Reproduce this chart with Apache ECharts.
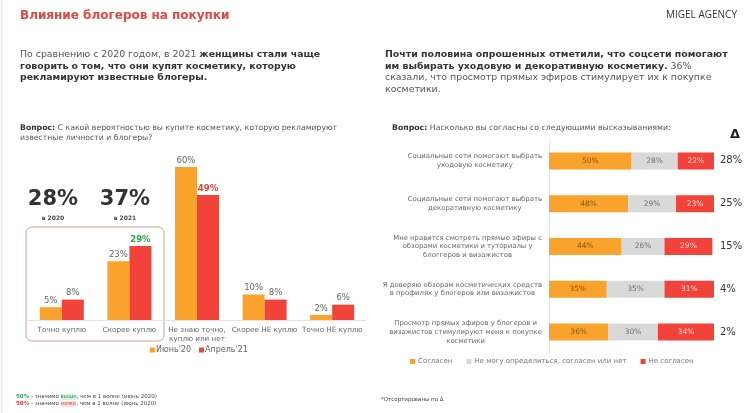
<!DOCTYPE html>
<html><head><meta charset="utf-8">
<script src="https://cdn.jsdelivr.net/npm/echarts@6/dist/echarts.min.js"></script>
<style>html,body{margin:0;padding:0;background:#fff}#c{width:750px;height:413px}</style>
</head><body><div id="c"></div>
<script>
// ---- data ----
const leftCategories = ['Точно куплю', 'Скорее куплю', 'Не знаю точно,\nкуплю или нет', 'Скорее НЕ куплю', 'Точно НЕ куплю'];
const june20 = [5, 23, 60, 10, 2];
const april21 = [8, 29, 49, 8, 6];
const april21Significance = ['', 'up', 'down', '', ''];
const leftSeriesNames = ["Июнь'20", "Апрель'21"];

const rightCategories = [
  'Социальные сети помогают выбрать\nуходовую косметику',
  'Социальные сети помогают выбрать\nдекоративную косметику',
  'Мне нравится смотреть прямые эфиры с\nобзорами косметики и туториалы у\nблоггеров и визажистов',
  'Я доверяю обзорам косметических средств\nв профилях у блогеров или визажистов',
  'Просмотр прямых эфиров у блогеров и\nвизажистов стимулируют меня к покупке\nкосметики'
];
const agree = [50, 48, 44, 35, 36];
const neutral = [28, 29, 26, 35, 30];
const disagree = [22, 23, 29, 31, 34];
const delta = [28, 25, 15, 4, 2];
const rightSeriesNames = ['Согласен', 'Не могу определиться, согласен или нет', 'Не согласен'];

// ---- styling ----
const F = 'DejaVu Sans';
const ORANGE = '#F9A22C', RED = '#F2433A', GRAY = '#D9D9D9', GREEN = '#2AA257', TITLE_RED = '#E2483D';

const sigStyle = {
  up: { color: GREEN, fontWeight: 'bold' },
  down: { color: '#E8403A', fontWeight: 'bold' }
};
const aprilData = april21.map((v, i) => april21Significance[i]
  ? { value: v, label: sigStyle[april21Significance[i]] } : v);

const total2020 = june20[0] + june20[1];
const total2021 = april21[0] + april21[1];

function txt(x, y, text, style) {
  return { type: 'text', x: x, y: y, silent: true,
    style: Object.assign({ text: text, fontFamily: F, verticalAlign: 'middle', textVerticalAlign: 'middle' }, style) };
}
function ctxt(x, y, text, style) {
  return { type: 'text', x: x, y: y, silent: true,
    style: Object.assign({ text: text, fontFamily: F, align: 'center', textAlign: 'center', verticalAlign: 'middle', textVerticalAlign: 'middle' }, style) };
}
const P = 9.4;
const paraRich = {
  n: { fontFamily: F, fontSize: P, lineHeight: 11.5, fill: '#555', color: '#555' },
  b: { fontFamily: F, fontSize: P, lineHeight: 11.5, fontWeight: 'bold', fill: '#333', color: '#333' }
};
function qRich(fs) {
  return {
    n: { fontFamily: F, fontSize: fs, lineHeight: 10, fill: '#555', color: '#555' },
    b: { fontFamily: F, fontSize: fs, lineHeight: 10, fontWeight: 'bold', fill: '#333', color: '#333' }
  };
}

const chart = echarts.init(document.getElementById('c'), null, { renderer: 'canvas' });
chart.setOption({
  animation: false,
  backgroundColor: '#fff',
  grid: [
    { left: 28, top: 141.5, width: 338, height: 178.5 },
    { left: 549, top: 139.5, width: 165, height: 214 }
  ],
  legend: [
    { data: leftSeriesNames, left: 150, top: 346, padding: 0, itemWidth: 5, itemHeight: 5, itemGap: 8, icon: 'rect',
      textStyle: { fontFamily: F, fontSize: 8, color: '#666', padding: [0, 0, 0, -4] } },
    { data: rightSeriesNames, left: 410, top: 358, padding: 0, itemWidth: 5, itemHeight: 5, itemGap: 14, icon: 'rect',
      textStyle: { fontFamily: F, fontSize: 7, color: '#777', padding: [0, 0, 0, -2] } }
  ],
  xAxis: [
    { gridIndex: 0, type: 'category', data: leftCategories,
      axisLine: { lineStyle: { color: '#E3E3E3' } }, axisTick: { show: false },
      axisLabel: { fontFamily: F, fontSize: 7.2, color: '#666', margin: 6, lineHeight: 8.5, interval: 0 } },
    { gridIndex: 1, type: 'value', min: 0, max: 100, show: false }
  ],
  yAxis: [
    { gridIndex: 0, type: 'value', min: 0, max: 70, show: false },
    { gridIndex: 1, type: 'category', data: rightCategories, inverse: true,
      axisLine: { lineStyle: { color: '#E6E6E6' } }, axisTick: { show: false },
      axisLabel: { margin: 7, interval: 0,
        formatter: v => v.split('\n').map(s => '{c|' + s + '}').join('\n'),
        rich: { c: { align: 'center', fontFamily: F, fontSize: 6.9, lineHeight: 8.7, color: '#666' } } } },
    { gridIndex: 1, type: 'category', data: rightCategories, inverse: true, position: 'right',
      axisLine: { show: false }, axisTick: { show: false },
      axisLabel: { margin: 6, interval: 0, align: 'left', fontFamily: F, fontSize: 10, color: '#333',
        formatter: (v, i) => delta[i] + '%' } }
  ],
  series: [
    { name: leftSeriesNames[0], type: 'bar', xAxisIndex: 0, yAxisIndex: 0, data: june20,
      barWidth: 22, barGap: '0%', itemStyle: { color: ORANGE },
      label: { show: true, position: 'top', distance: 2, fontFamily: F, fontSize: 8.5, color: '#666', formatter: '{c}%' } },
    { name: leftSeriesNames[1], type: 'bar', xAxisIndex: 0, yAxisIndex: 0, data: aprilData,
      barWidth: 22, barGap: '0%', itemStyle: { color: RED },
      label: { show: true, position: 'top', distance: 2, fontFamily: F, fontSize: 8.5, color: '#666', formatter: '{c}%' } },
    { name: rightSeriesNames[0], type: 'bar', stack: 'r', xAxisIndex: 1, yAxisIndex: 1, data: agree, barWidth: 17,
      itemStyle: { color: ORANGE },
      label: { show: true, position: 'inside', fontFamily: F, fontSize: 7.5, color: '#8A5513', formatter: '{c}%' } },
    { name: rightSeriesNames[1], type: 'bar', stack: 'r', xAxisIndex: 1, yAxisIndex: 1, data: neutral, barWidth: 17,
      itemStyle: { color: GRAY },
      label: { show: true, position: 'inside', fontFamily: F, fontSize: 7.5, color: '#707070', formatter: '{c}%' } },
    { name: rightSeriesNames[2], type: 'bar', stack: 'r', xAxisIndex: 1, yAxisIndex: 1, data: disagree, barWidth: 17,
      itemStyle: { color: RED },
      label: { show: true, position: 'inside', fontFamily: F, fontSize: 7.5, color: '#FFD9D2', formatter: '{c}%' } }
  ],
  graphic: [
    { type: 'rect', silent: true, shape: { x: 1, y: 0, width: 1.5, height: 413 }, style: { fill: '#E4E4E4' } },
    txt(20, 16, 'Влияние блогеров на покупки', { fontSize: 12, fontWeight: 'bold', fill: TITLE_RED }),
    { type: 'text', x: 737, y: 15, silent: true,
      style: { text: 'MIGEL AGENCY', fontFamily: 'Open Sans', fontSize: 10, fill: '#333', align: 'right', textAlign: 'right', verticalAlign: 'middle', textVerticalAlign: 'middle' } },
    txt(20, 66.5, '{n|По сравнению с 2020 годом, в 2021 }{b|женщины стали чаще}\n{b|говорить о том, что они купят косметику, которую}\n{b|рекламируют известные блогеры.}', { rich: paraRich }),
    txt(385, 72, '{b|Почти половина опрошенных отметили, что соцсети помогают}\n{b|им выбирать уходовую и декоративную косметику.}{n| 36%}\n{n|сказали, что просмотр прямых эфиров стимулирует их к покупке}\n{n|косметики.}', { rich: paraRich }),
    txt(20, 133, '{b|Вопрос:}{n| С какой вероятностью вы купите косметику, которую рекламируют}\n{n|известные личности и блогеры?}', { rich: qRich(7.75) }),
    txt(392, 128, '{b|Вопрос:}{n| Насколько вы согласны со следующими высказываниями:}', { rich: qRich(7.8) }),
    ctxt(735, 135, 'Δ', { fontSize: 13, fontWeight: 'bold', fill: '#222' }),
    ctxt(53, 200, total2020 + '%', { fontSize: 21, fontWeight: 'bold', fill: '#333' }),
    ctxt(125, 200, total2021 + '%', { fontSize: 21, fontWeight: 'bold', fill: '#333' }),
    ctxt(53, 218, 'в 2020', { fontSize: 6, fontWeight: 'bold', fill: '#444' }),
    ctxt(125, 218, 'в 2021', { fontSize: 6, fontWeight: 'bold', fill: '#444' }),
    { type: 'rect', silent: true, shape: { x: 26, y: 227, width: 138, height: 114, r: 6 },
      style: { fill: 'none', stroke: '#C9A493', lineWidth: 1 } },
    txt(16, 400.5, '{g|50%}{n| - значимо }{gh|выше}{n|, чем в 1 волне (июнь 2020)}\n{r|50%}{n| - значимо }{rh|ниже}{n|, чем в 1 волне (июнь 2020)}', {
      rich: { n: { fontFamily: F, fontSize: 5.5, lineHeight: 7, fill: '#444', color: '#444' },
              g: { fontFamily: F, fontSize: 5.5, lineHeight: 7, fill: GREEN, color: GREEN, fontWeight: 'bold' },
              gh: { fontFamily: F, fontSize: 5.5, lineHeight: 7, fill: GREEN, color: GREEN, backgroundColor: '#DDF2E2' },
              r: { fontFamily: F, fontSize: 5.5, lineHeight: 7, fill: '#E8403A', color: '#E8403A', fontWeight: 'bold' },
              rh: { fontFamily: F, fontSize: 5.5, lineHeight: 7, fill: '#E8403A', color: '#E8403A', backgroundColor: '#FBE0DD' } } }),
    txt(381, 400, '*Отсортированы по Δ', { fontSize: 5.5, fill: '#444' })
  ]
});
</script>
</body></html>
